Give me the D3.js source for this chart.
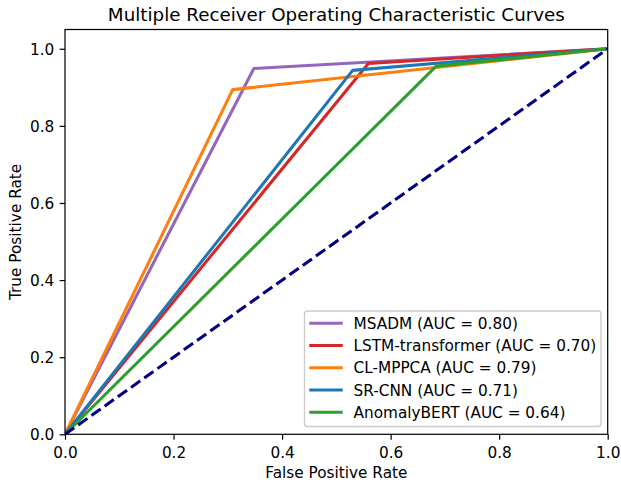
<!DOCTYPE html>
<html><head><meta charset="utf-8">
<script src="https://cdn.jsdelivr.net/npm/d3@7"></script>
<style>body{margin:0;background:#fff}svg{display:block}text{font-family:"DejaVu Sans",sans-serif;fill:#000}</style>
</head><body>
<script>
const seriesNames = ["MSADM (AUC = 0.80)", "LSTM-transformer (AUC = 0.70)", "CL-MPPCA (AUC = 0.79)", "SR-CNN (AUC = 0.71)", "AnomalyBERT (AUC = 0.64)"];
const seriesColors = ["#9467bd", "#d62728", "#ff7f0e", "#1f77b4", "#2ca02c"];
const fprValues = [[0, 0.348, 1], [0, 0.559, 1], [0, 0.309, 1], [0, 0.530, 1], [0, 0.684, 1]];
const tprValues = [[0, 0.949, 1], [0, 0.962, 1], [0, 0.894, 1], [0, 0.944, 1], [0, 0.955, 1]];
const diagonal = [[0, 0], [1, 1]];
const tickValues = [0, 0.2, 0.4, 0.6, 0.8, 1.0];

(function () {
const W = 621, H = 485;
const mLeft = 65, mRight = 607.7, mTop = 29.5, mBottom = 434.3;
const FS = 15.3, LW = 3.06, SW = 1.22, TL = 5.35;
const svg = d3.select("body").append("svg").attr("width", W).attr("height", H);
const x = d3.scaleLinear().domain([0, 1]).range([mLeft, mRight]);
const y = d3.scaleLinear().domain([0, 1.05]).range([mBottom, mTop]);

svg.append("clipPath").attr("id", "c").append("rect")
  .attr("x", mLeft).attr("y", mTop).attr("width", mRight - mLeft).attr("height", mBottom - mTop);
const line = d3.line().x(d => x(d[0])).y(d => y(d[1]));
const plot = svg.append("g").attr("clip-path", "url(#c)");
seriesNames.forEach((n, i) => {
  const pts = fprValues[i].map((f, j) => [f, tprValues[i][j]]);
  plot.append("path").attr("d", line(pts)).attr("fill", "none")
    .attr("stroke", seriesColors[i]).attr("stroke-width", LW)
    .attr("stroke-linejoin", "round").attr("stroke-linecap", "square");
});
plot.append("path").attr("d", line(diagonal)).attr("fill", "none")
  .attr("stroke", "#000080").attr("stroke-width", LW).attr("stroke-dasharray", "11.3,4.9");

const fmt = d3.format(".1f");
const xAxis = svg.append("g").attr("transform", `translate(0,${mBottom})`)
  .call(d3.axisBottom(x).tickValues(tickValues).tickFormat(fmt).tickSize(TL).tickSizeOuter(0));
const yAxis = svg.append("g").attr("transform", `translate(${mLeft},0)`)
  .call(d3.axisLeft(y).tickValues(tickValues).tickFormat(fmt).tickSize(TL).tickSizeOuter(0));
[xAxis, yAxis].forEach(a => {
  a.select(".domain").remove();
  a.selectAll(".tick line").attr("stroke", "#000").attr("stroke-width", SW);
  a.selectAll(".tick text").attr("font-size", FS).attr("font-family", "DejaVu Sans").attr("fill", "#000");
});
xAxis.selectAll(".tick text").attr("dy", null).attr("y", 24);
yAxis.selectAll(".tick text").attr("x", -10.7).attr("dy", "0.36em");

svg.append("rect").attr("x", mLeft).attr("y", mTop).attr("width", mRight - mLeft).attr("height", mBottom - mTop)
  .attr("fill", "none").attr("stroke", "#000").attr("stroke-width", SW);

svg.append("text").attr("x", (mLeft + mRight) / 2).attr("y", 20.5).attr("text-anchor", "middle")
  .attr("font-size", 18.3).text("Multiple Receiver Operating Characteristic Curves");
svg.append("text").attr("x", (mLeft + mRight) / 2).attr("y", 477.5).attr("text-anchor", "middle")
  .attr("font-size", FS).text("False Positive Rate");
svg.append("text").attr("transform", `translate(20.6,${(mTop + mBottom) / 2}) rotate(-90)`).attr("text-anchor", "middle")
  .attr("font-size", FS).text("True Positive Rate");

const lg = svg.append("g");
lg.append("rect").attr("x", 304.5).attr("y", 311).attr("width", 296.5).attr("height", 115.5)
  .attr("rx", 3).attr("fill", "#fff").attr("fill-opacity", 0.8).attr("stroke", "#cccccc").attr("stroke-width", 1.4);
seriesNames.forEach((n, i) => {
  const cy = 323.3 + i * 22.25;
  lg.append("line").attr("x1", 310.8).attr("x2", 341.2).attr("y1", cy).attr("y2", cy)
    .attr("stroke", seriesColors[i]).attr("stroke-width", LW).attr("stroke-linecap", "square");
  lg.append("text").attr("x", 353.5).attr("y", cy).attr("dy", "0.36em").attr("font-size", FS).text(n);
});
})();
</script>
</body></html>
